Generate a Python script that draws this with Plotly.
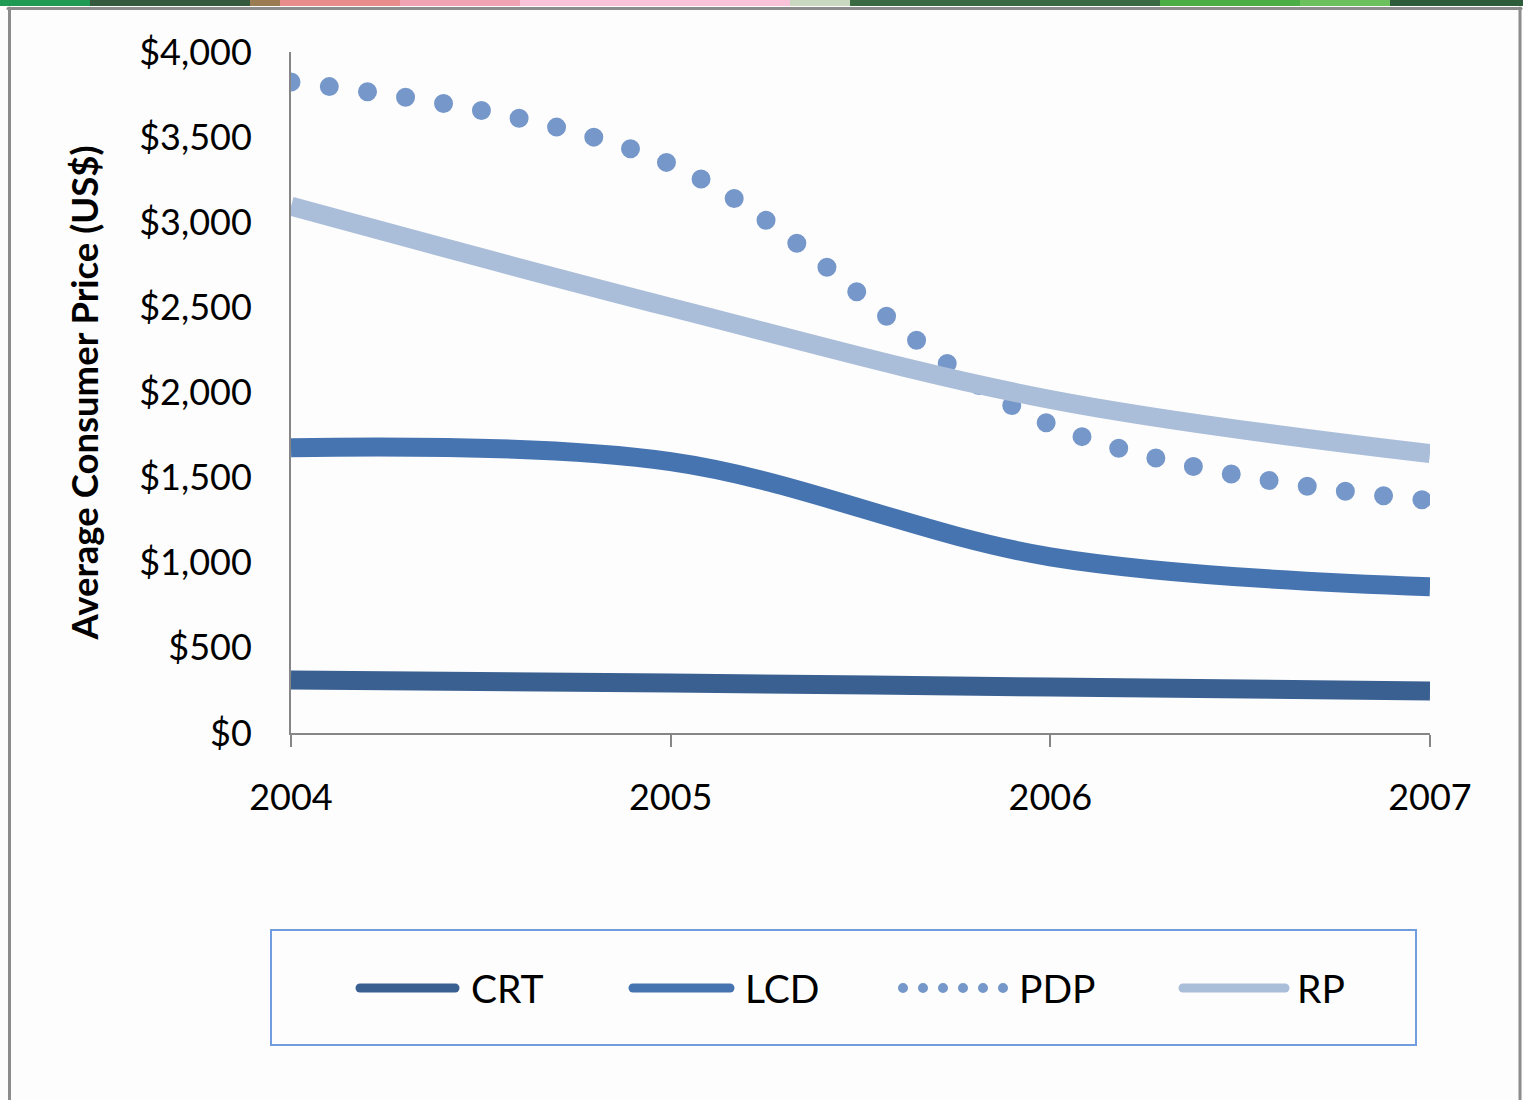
import plotly.graph_objects as go

# Average consumer price by display technology
years = [2004, 2005, 2006, 2007]
crt = [312, 294, 270, 247]
lcd = [1676, 1594, 1035, 859]
pdp = [3824, 3341, 1812, 1365]
rp = [3094, 2500, 1959, 1641]

series_names = ["CRT", "LCD", "PDP", "RP"]
series_values = [crt, lcd, pdp, rp]
series_colors = ["#3A6092", "#4674B0", "#7597C9", "#AABDD9"]
series_dash = ["solid", "solid", "0px,38.5px", "solid"]

y_ticks = [0, 500, 1000, 1500, 2000, 2500, 3000, 3500, 4000]
y_tick_text = ["$0", "$500", "$1,000", "$1,500", "$2,000", "$2,500",
               "$3,000", "$3,500", "$4,000"]

W, H = 1523, 1100
L, R, T, B = 291, 93, 52, 367
PW, PH = W - L - R, H - T - B

FONT = "Lato"
AXIS_GREY = "#868686"


def px(x):
    return (x - L) / PW


def py(y):
    return (H - B - y) / PH


fig = go.Figure()
for name, vals, color, dash in zip(series_names, series_values,
                                   series_colors, series_dash):
    fig.add_trace(go.Scatter(
        x=years, y=vals, name=name, mode="lines",
        line=dict(color=color, width=19, dash=dash,
                  shape="spline", smoothing=1.0),
        showlegend=False, hoverinfo="skip",
    ))

shapes = []
# top strip of the surrounding page
strip = [(0, 90, "#1E9A52"), (90, 250, "#34593C"), (250, 280, "#9A7B52"),
         (280, 400, "#E98D8C"), (400, 520, "#F0A3B2"), (520, 790, "#F8C3D8"),
         (790, 850, "#C9D8C0"), (850, 1160, "#3A6A42"), (1160, 1300, "#4BAE45"),
         (1300, 1390, "#6CC05E"), (1390, 1523, "#2D5C3B")]
for x0, x1, c in strip:
    shapes.append(dict(type="rect", xref="paper", yref="paper",
                       x0=px(x0), x1=px(x1), y0=py(6), y1=py(0),
                       fillcolor=c, line=dict(width=0), layer="below"))
# chart frame
frame = dict(color="#8C8C8C", width=3)
shapes.append(dict(type="line", xref="paper", yref="paper",
                   x0=px(8), x1=px(1521), y0=py(8.5), y1=py(8.5), line=frame))
shapes.append(dict(type="line", xref="paper", yref="paper",
                   x0=px(9.5), x1=px(9.5), y0=py(8), y1=py(1100), line=frame))
shapes.append(dict(type="line", xref="paper", yref="paper",
                   x0=px(1520), x1=px(1520), y0=py(8), y1=py(1100), line=frame))

# legend box
shapes.append(dict(type="rect", xref="paper", yref="paper",
                   x0=px(271), x1=px(1416), y0=py(1045), y1=py(930),
                   line=dict(color="#6F9DE0", width=2), fillcolor="rgba(0,0,0,0)"))

legend_items = [  # (line start, line end, text x)
    (360, 455, 469),
    (633, 730, 743),
    (903, 1004, 1017),
    (1183, 1285, 1295),
]
legend_dash = ["solid", "solid", "0px,20px", "solid"]
annotations = []
ly = 988
for (x0, x1, tx), name, color, dash in zip(legend_items, series_names,
                                           series_colors, legend_dash):
    shapes.append(dict(type="line", xref="paper", yref="paper",
                       x0=px(x0), x1=px(x1), y0=py(ly), y1=py(ly),
                       line=dict(color=color, width=9 if dash == "solid" else 10,
                                 dash=dash)))
    annotations.append(dict(xref="paper", yref="paper", x=px(tx), y=py(ly),
                            text=name, showarrow=False, xanchor="left",
                            yanchor="middle",
                            font=dict(family=FONT, size=39, color="#000000")))

fig.update_layout(
    width=W, height=H,
    margin=dict(l=L, r=R, t=T, b=B, autoexpand=False),
    paper_bgcolor="#FDFDFD", plot_bgcolor="#FDFDFD",
    font=dict(family=FONT, size=36, color="#000000"),
    shapes=shapes, annotations=annotations,
    showlegend=False,
    xaxis=dict(
        range=[2004, 2007], tickvals=years, ticktext=[str(y) for y in years],
        showgrid=False, zeroline=False,
        showline=True, linecolor=AXIS_GREY, linewidth=2,
        ticks="outside", ticklen=12, tickwidth=2, tickcolor=AXIS_GREY,
        ticklabelstandoff=20,
        tickfont=dict(family=FONT, size=36, color="#000000"),
    ),
    yaxis=dict(
        range=[0, 4000], tickvals=y_ticks, ticktext=y_tick_text,
        showgrid=False, zeroline=False,
        showline=True, linecolor=AXIS_GREY, linewidth=2,
        ticks="", ticklabelstandoff=30,
        tickfont=dict(family=FONT, size=36, color="#000000"),
        title=dict(text="<b>Average Consumer Price (US$)</b>", standoff=29,
                   font=dict(family=FONT, size=36.5, color="#000000")),
    ),
)

# round caps turn zero-length dashes into dots and soften legend line ends
post = """
var gd = document.getElementById('{plot_id}');
function roundCaps() {
  gd.querySelectorAll('path.js-line').forEach(function (p) {
    var d = p.style.strokeDasharray;
    if (d && d !== 'none') { p.style.strokeLinecap = 'round'; }
  });
  gd.querySelectorAll('.shapelayer path').forEach(function (p) {
    p.style.strokeLinecap = 'round';
  });
}
roundCaps();
gd.on('plotly_afterplot', roundCaps);
"""

fig.write_html("out.html", post_script=post)
